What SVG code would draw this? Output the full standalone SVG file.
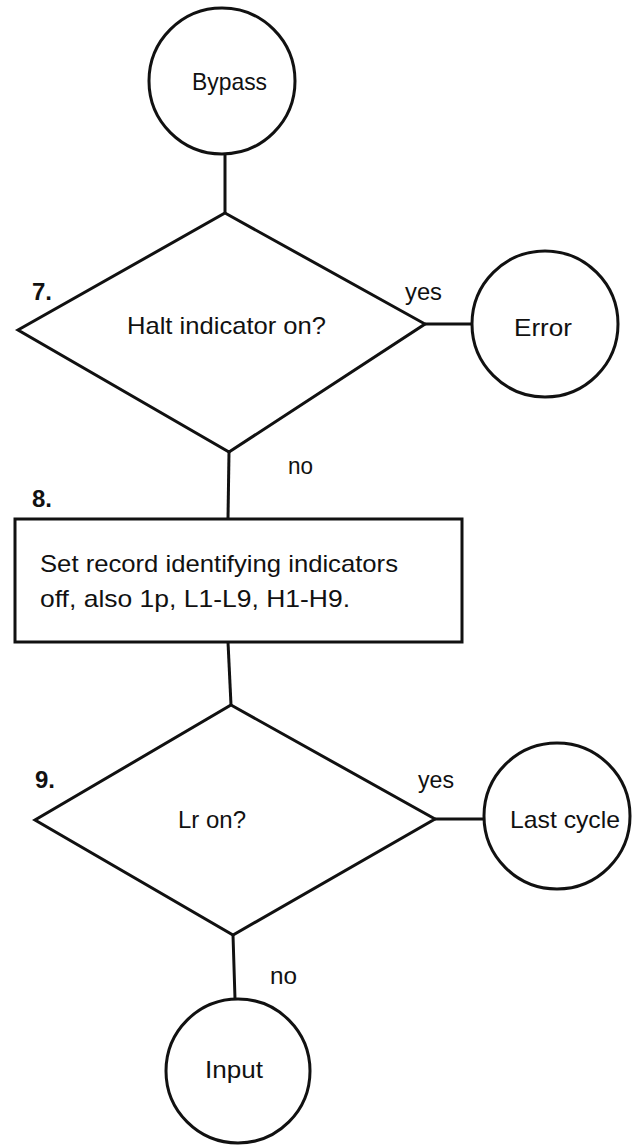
<svg xmlns="http://www.w3.org/2000/svg" width="640" height="1146" viewBox="0 0 640 1146">
<style>
.shape{fill:#fff;stroke:#111;stroke-width:3;stroke-linejoin:miter}
.conn{fill:none;stroke:#111;stroke-width:3}
.t{font-family:"Liberation Sans",Arial,sans-serif;font-size:24px;fill:#111}
.c{text-anchor:middle}
.num{font-family:"Liberation Sans",Arial,sans-serif;font-size:24px;font-weight:bold;fill:#111}
</style>
<rect width="640" height="1146" fill="#fff"/>
<g id="connectors">
<line class="conn" x1="225" y1="154" x2="225" y2="213"/>
<line class="conn" x1="425" y1="324" x2="472" y2="324"/>
<line class="conn" x1="229" y1="452" x2="228" y2="519"/>
<line class="conn" x1="228" y1="642" x2="231" y2="705"/>
<line class="conn" x1="435" y1="819" x2="485" y2="819"/>
<line class="conn" x1="233" y1="935" x2="235" y2="999"/>
<text class="t" x="405" y="300" textLength="37" lengthAdjust="spacingAndGlyphs">yes</text>
<text class="t" x="288" y="474" textLength="25" lengthAdjust="spacingAndGlyphs">no</text>
<text class="t" x="418" y="788" textLength="36" lengthAdjust="spacingAndGlyphs">yes</text>
<text class="t" x="270" y="984" textLength="27" lengthAdjust="spacingAndGlyphs">no</text>
</g>
<g id="bypass">
<circle class="shape" cx="222" cy="81" r="73"/>
<text class="t" x="192" y="90" textLength="75" lengthAdjust="spacingAndGlyphs">Bypass</text>
</g>
<g id="halt">
<polygon class="shape" points="225,213 425,324 229,452 18,330"/>
<text class="num" x="32" y="300">7.</text>
<text class="t" x="127" y="334" textLength="199" lengthAdjust="spacingAndGlyphs">Halt indicator on?</text>
</g>
<g id="error">
<circle class="shape" cx="545" cy="324" r="73"/>
<text class="t" x="514" y="336" textLength="58" lengthAdjust="spacingAndGlyphs">Error</text>
</g>
<g id="setrecord">
<text class="num" x="32" y="507">8.</text>
<rect class="shape" x="15" y="519" width="447" height="123"/>
<text class="t" x="40" y="572" textLength="358" lengthAdjust="spacingAndGlyphs">Set record identifying indicators</text>
<text class="t" x="40" y="607" textLength="310" lengthAdjust="spacingAndGlyphs">off, also 1p, L1-L9, H1-H9.</text>
</g>
<g id="lr">
<polygon class="shape" points="231,705 435,819 233,935 35,820"/>
<text class="num" x="35" y="788">9.</text>
<text class="t" x="178" y="828" textLength="68" lengthAdjust="spacingAndGlyphs">Lr on?</text>
</g>
<g id="lastcycle">
<circle class="shape" cx="557" cy="816" r="73"/>
<text class="t" x="510" y="828" textLength="110" lengthAdjust="spacingAndGlyphs">Last cycle</text>
</g>
<g id="input">
<circle class="shape" cx="238" cy="1071" r="72"/>
<text class="t" x="205" y="1078" textLength="58" lengthAdjust="spacingAndGlyphs">Input</text>
</g>
</svg>
